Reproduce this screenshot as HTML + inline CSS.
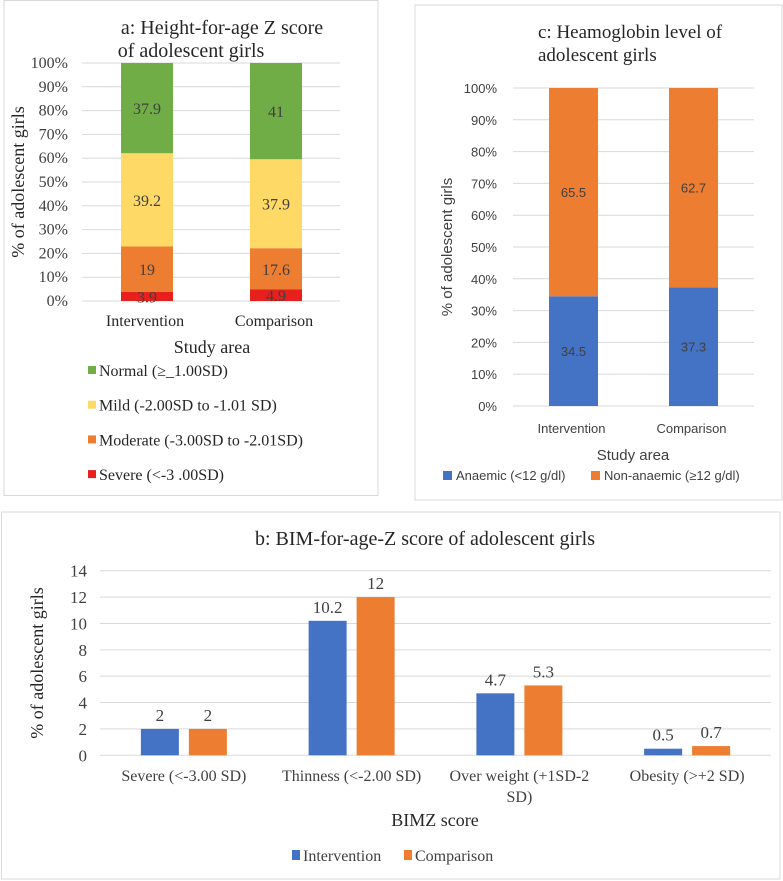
<!DOCTYPE html>
<html><head><meta charset="utf-8"><style>
html,body{margin:0;padding:0;background:#fff;}
svg{display:block;}
.serif{font-family:"Liberation Serif",serif;}
.sans{font-family:"Liberation Sans",sans-serif;}
</style></head><body>
<svg id="s" width="783" height="881" xmlns="http://www.w3.org/2000/svg">
<rect x="4" y="0.5" width="374" height="495" fill="#fff" stroke="#d9d9d9"/>
<rect x="415" y="5" width="367" height="495" fill="#fff" stroke="#d9d9d9"/>
<rect x="1.5" y="512" width="778.5" height="367" fill="#fff" stroke="#d9d9d9"/>
<g class="serif" fill="#262626">
<text x="222" y="34" font-size="20" text-anchor="middle">a: Height-for-age Z score</text>
<text x="191" y="57" font-size="20" text-anchor="middle">of adolescent girls</text>
<text x="538" y="38" font-size="19">c: Heamoglobin level of</text>
<text x="538" y="61" font-size="19">adolescent girls</text>
<text x="425" y="545" font-size="20" text-anchor="middle">b: BIM-for-age-Z score of adolescent girls</text>
<text transform="translate(24,182) rotate(-90)" font-size="18" text-anchor="middle">% of adolescent girls</text>
<text x="212" y="353" font-size="18" text-anchor="middle">Study area</text>
<text transform="translate(43,663) rotate(-90)" font-size="18" text-anchor="middle">% of adolescent girls</text>
<text x="435" y="826" font-size="18" text-anchor="middle">BIMZ score</text>
</g>
<g class="sans" fill="#404040">
<text transform="translate(452,247) rotate(-90)" font-size="15" text-anchor="middle">% of adolescent girls</text>
<text x="633" y="460" font-size="15" text-anchor="middle">Study area</text>
</g>
<g id="ga"></g><g id="gc"></g><g id="gb"></g>
</svg>
<script>
// Panel a
const aCats = ["Intervention","Comparison"];
const aSeries = ["Severe (<-3 .00SD)","Moderate (-3.00SD to -2.01SD)","Mild (-2.00SD to -1.01 SD)","Normal (\u2265_1.00SD)"];
const aSevere = [3.9, 4.9];
const aModerate = [19, 17.6];
const aMild = [39.2, 37.9];
const aNormal = [37.9, 41];
const aTicks = ["0%","10%","20%","30%","40%","50%","60%","70%","80%","90%","100%"];
// Panel c
const cCats = ["Intervention","Comparison"];
const cAnaemic = [34.5, 37.3];
const cNonAnaemic = [65.5, 62.7];
const cTicks = ["0%","10%","20%","30%","40%","50%","60%","70%","80%","90%","100%"];
// Panel b
const bCats = [["Severe (<-3.00 SD)"],["Thinness (<-2.00 SD)"],["Over weight (+1SD-2","SD)"],["Obesity (>+2 SD)"]];
const bIntervention = [2, 10.2, 4.7, 0.5];
const bComparison = [2, 12, 5.3, 0.7];
const bTicks = [0,2,4,6,8,10,12,14];

const NS="http://www.w3.org/2000/svg";
function mk(tag, attrs, parent, txt){const e=document.createElementNS(NS,tag);for(const k in attrs)e.setAttribute(k,attrs[k]);if(txt!==undefined)e.textContent=txt;parent.appendChild(e);return e;}
const ga=document.getElementById('ga'), gc=document.getElementById('gc'), gb=document.getElementById('gb');

// ---- panel a (100% stacked: normalised by total) ----
const ay = v => 301 - v*(301-63)/100;
const aBarX = [121, 250], aBarW = 52;
aTicks.forEach((t,i)=>{
  const y=ay(i*10);
  const l=mk('line',{x1:82,x2:340,y1:y,y2:y,stroke:'#d9d9d9'},ga);
  
  
  const tx=mk('text',{x:68,y:y+5,'font-size':16,'text-anchor':'end',fill:'#404040',class:'serif'},ga,t);
  
  
});
const aCols=["#e8201d","#ed7d31","#ffd966","#70ad47"];
const aData=[aSevere,aModerate,aMild,aNormal];
aCats.forEach((c,i)=>{
  const total=aData.reduce((s,arr)=>s+arr[i],0);
  let base=0;
  aData.forEach((arr,s)=>{
    const v=arr[i], p=v*100/total;
    const r=mk('rect',{x:aBarX[i],y:ay(base+p),width:aBarW,height:ay(base)-ay(base+p),fill:aCols[s]},ga);
    
    
    const t=mk('text',{x:aBarX[i]+aBarW/2,y:ay(base+p/2)+6,'font-size':16,'text-anchor':'middle',fill:'#404040',class:'serif'},ga,String(v));
    
    
    base+=p;
  });
  const cl=mk('text',{x:aBarX[i]+aBarW/2-2,y:326,'font-size':16,'text-anchor':'middle',fill:'#262626',class:'serif'},ga,c);
  
  
});
const aLegOrder=[3,2,1,0];
aLegOrder.forEach((s,k)=>{
  const y=371+k*34.7;
  const r=mk('rect',{x:88,y:y-5,width:8,height:8,fill:aCols[s]},ga);
  
  
  const t=mk('text',{x:99,y:y+5,'font-size':16,fill:'#262626',class:'serif'},ga,aSeries[s]);
  
  
});

// ---- panel c ----
const cy = v => 406 - v*(406-88)/100;
const cBarX=[549,669], cBarW=49;
cTicks.forEach((t,i)=>{
  const y=cy(i*10);
  const l=mk('line',{x1:513,x2:754,y1:y,y2:y,stroke:'#d9d9d9'},gc);
  
  
  const tx=mk('text',{x:497,y:y+5,'font-size':13,'text-anchor':'end',fill:'#404040',class:'sans'},gc,t);
  
  
});
const cCols=["#4472c4","#ed7d31"];
const cData=[cAnaemic,cNonAnaemic];
cCats.forEach((c,i)=>{
  let base=0;
  cData.forEach((arr,s)=>{
    const v=arr[i];
    const r=mk('rect',{x:cBarX[i],y:cy(base+v),width:cBarW,height:cy(base)-cy(base+v),fill:cCols[s]},gc);
    
    
    const t=mk('text',{x:cBarX[i]+cBarW/2,y:cy(base+v/2)+5,'font-size':13,'text-anchor':'middle',fill:'#404040',class:'sans'},gc,String(v));
    
    
    base+=v;
  });
  const cl=mk('text',{x:cBarX[i]+cBarW/2-2,y:433,'font-size':13,'text-anchor':'middle',fill:'#404040',class:'sans'},gc,c);
  
  
});
[["Anaemic (<12 g/dl)",443,456,0],["Non-anaemic (\u226512 g/dl)",591,604,1]].forEach(e=>{
  const r=mk('rect',{x:e[1],y:471,width:9,height:9,fill:cCols[e[3]]},gc);
  
  
  const t=mk('text',{x:e[2],y:480,'font-size':13,fill:'#404040',class:'sans'},gc,e[0]);
  
  
});

// ---- panel b ----
const by = v => 755.3 - v*(755.3-570.7)/14;
const bx0=100, bx1=771, bw=(bx1-bx0)/bCats.length, bBarW=38;
bTicks.forEach(t=>{
  const y=by(t);
  const l=mk('line',{x1:bx0,x2:bx1,y1:y,y2:y,stroke:'#d9d9d9'},gb);
  
  
  const tx=mk('text',{x:87,y:y+6,'font-size':17,'text-anchor':'end',fill:'#404040',class:'serif'},gb,String(t));
  
  
});
const bCols=["#4472c4","#ed7d31"];
bCats.forEach((c,i)=>{
  const cx=bx0+bw*(i+0.5);
  [bIntervention,bComparison].forEach((arr,s)=>{
    const v=arr[i];
    const x=s===0?cx-43:cx+5;
    const r=mk('rect',{x:x,y:by(v),width:bBarW,height:by(0)-by(v),fill:bCols[s]},gb);
    
    
    const t=mk('text',{x:x+bBarW/2,y:by(v)-8,'font-size':17,'text-anchor':'middle',fill:'#404040',class:'serif'},gb,String(v));
    
    
  });
  c.forEach((line,k)=>{
    const t=mk('text',{x:cx,y:781+k*21,'font-size':16,'text-anchor':'middle',fill:'#404040',class:'serif'},gb,line);
    
    
  });
});
[["Intervention",292,303,0],["Comparison",404,415,1]].forEach(e=>{
  const r=mk('rect',{x:e[1],y:850,width:8,height:10,fill:bCols[e[3]]},gb);
  
  
  const t=mk('text',{x:e[2],y:861,'font-size':16,fill:'#404040',class:'serif'},gb,e[0]);
  
  
});
</script>
</body></html>
